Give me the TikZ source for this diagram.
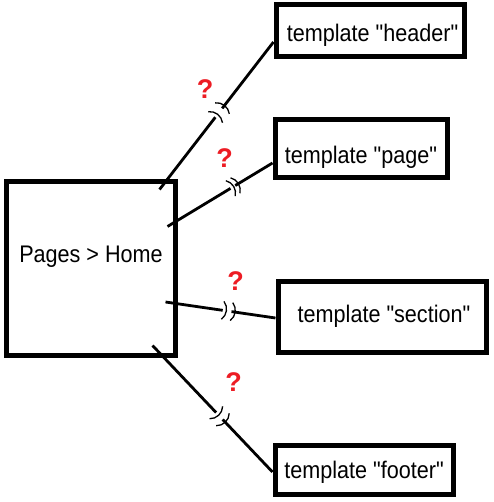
\documentclass[tikz,border=0pt]{standalone}
\usepackage{fontspec}
\setmainfont{Liberation Sans}[Ligatures=TeXOff, FakeStretch=0.9]
\newfontfamily\qmarkfont{Liberation Sans}
\usetikzlibrary{
    positioning,  % Relative positioning
    calc          % Coordinate calculations
}

\definecolor{qred}{RGB}{237,28,36}

\tikzset{
    tplbox/.style={draw, line width=5pt, inner sep=0pt, text height=#1,
                   font=\fontsize{24}{26}\selectfont},
    tplbox/.default=17.5pt,
    link/.style={line width=2.8pt},
    gaptick/.style={line width=1.3pt},
    qmark/.style={text=qred, font=\qmarkfont\fontsize{27}{29}\selectfont\bfseries, inner sep=0pt}
}

\begin{document}
\begin{tikzpicture}[x=1pt,y=-1pt]
    \useasboundingbox[fill=white] (0,0) rectangle (493,502);

    % Boxes
    \node[tplbox, minimum width=169pt, minimum height=173pt,
          label={[yshift=11.5pt, font=\fontsize{24}{26}\selectfont]center:Pages > Home}] (home) at (91,268.5) {};
    \node[tplbox=26.5pt, minimum width=188pt, minimum height=52pt] (header) at (370,31) {\hspace{5pt}template "header"};
    \node[tplbox=33pt, minimum width=172pt, minimum height=58pt] (page) at (361,149) {template "page"};
    \node[tplbox, minimum width=208pt, minimum height=71pt] (section) at (382,316.5) {\hspace{4pt}template "section"};
    \node[tplbox=22.5pt, minimum width=178pt, minimum height=49pt] (footer) at (364,469.5) {template "footer"};

    % Connector ends
    \coordinate (s1) at ($(home.north east)+(-18.5,10)$);
    \coordinate (s2) at ($(home.north east)+(-10.5,47)$);
    \coordinate (s3) at ($(home.east)+(-12.5,33.5)$);
    \coordinate (s4) at ($(home.south east)+(-25.5,-12)$);
    \coordinate (e1) at ($(header.west)+(0,11)$);
    \coordinate (e2) at ($(page.west)+(0,14)$);
    \coordinate (e3) at ($(section.west)+(0,1.5)$);
    \coordinate (e4) at ($(footer.west)+(0,2.5)$);

    % Broken links
    \foreach \s/\e/\a/\b in {s1/e1/0.49/0.55, s2/e2/0.60/0.645, s3/e3/0.52/0.60, s4/e4/0.53/0.585} {
        \draw[link] (\s) -- ($(\s)!\a!(\e)$) coordinate (ga);
        \draw[link] ($(\s)!\b!(\e)$) coordinate (gb) -- (\e);
        \draw[gaptick] ($(ga)!9pt!90:(\e)$) to[bend left=45] ($(ga)!9pt!-90:(\e)$);
        \draw[gaptick] ($(gb)!9pt!90:(\e)$) to[bend left=45] ($(gb)!9pt!-90:(\e)$);
    }

    % Question marks
    \node[qmark] (q1) at (205,89) {?};
    \node[qmark] (q2) at (224.5,158.5) {?};
    \node[qmark] (q3) at (235.5,281) {?};
    \node[qmark] (q4) at (233.5,382) {?};
\end{tikzpicture}
\end{document}
